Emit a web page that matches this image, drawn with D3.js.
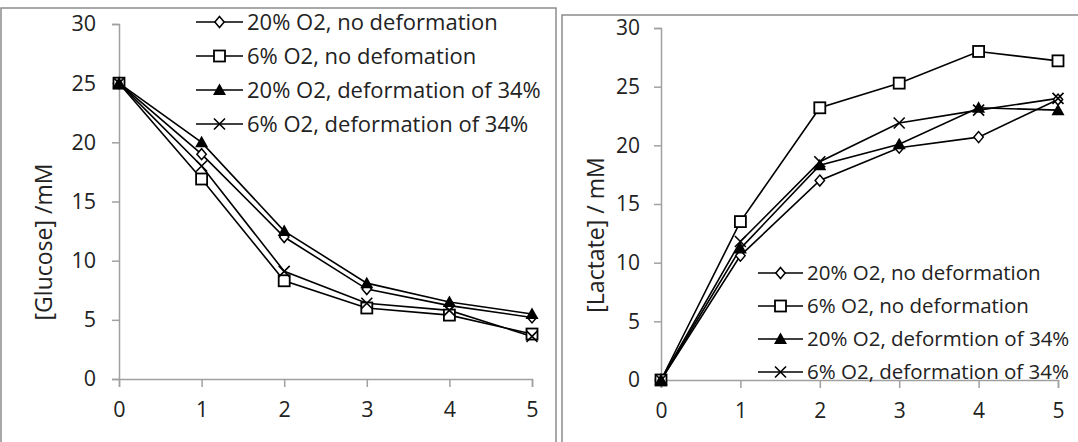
<!DOCTYPE html>
<html><head><meta charset="utf-8">
<script src="https://cdn.jsdelivr.net/npm/d3@7"></script>
<style>body{margin:0;background:#fff}svg{display:block}text{font-family:"Open Sans",sans-serif;fill:#222}</style>
</head><body><svg id="c" width="1078" height="442"></svg>
<script>
const hours = [0,1,2,3,4,5];
const yTicks = [0,5,10,15,20,25,30];
const glucoseLabels = ["20% O2, no deformation","6% O2, no defomation","20% O2, deformation of 34%","6% O2, deformation of 34%"];
const lactateLabels = ["20% O2, no deformation","6% O2, no deformation","20% O2, deformtion of 34%","6% O2, deformation of 34%"];
const markers = ["diamond","square","triangle","cross"];
const glucose20 = [25,19,12,7.6,6.2,5.2];
const glucose6 = [25,16.9,8.3,6.0,5.4,3.8];
const glucose20d = [25,20,12.5,8.1,6.5,5.5];
const glucose6d = [25,18,9.1,6.4,5.8,3.6];
const lactate20 = [0,10.6,17,19.8,20.7,23.9];
const lactate6 = [0,13.5,23.2,25.3,28,27.2];
const lactate20d = [0,11.2,18.3,20.1,23.2,23];
const lactate6d = [0,11.8,18.6,21.9,23,24];

const svg = d3.select("#c");

function marker(g, type, x, y){
  const s = 5.5;
  if(type==="diamond"){
    g.append("path").attr("d",`M${x},${y-s}L${x+s*0.85},${y}L${x},${y+s}L${x-s*0.85},${y}Z`).attr("fill","#fff").attr("stroke","#000").attr("stroke-width",1.5);
  } else if(type==="square"){
    g.append("rect").attr("x",x-s).attr("y",y-s).attr("width",2*s).attr("height",2*s).attr("fill","#fff").attr("stroke","#000").attr("stroke-width",1.8);
  } else if(type==="triangle"){
    g.append("path").attr("d",`M${x},${y-s-1}L${x+s+1},${y+s-0.5}L${x-s-1},${y+s-0.5}Z`).attr("fill","#000");
  } else {
    g.append("path").attr("d",`M${x-s},${y-s}L${x+s},${y+s}M${x-s},${y+s}L${x+s},${y-s}`).attr("stroke","#000").attr("stroke-width",1.6);
  }
}

function panel(cfg){
  const g = svg.append("g");
  g.append("rect").attr("x",cfg.box[0]).attr("y",cfg.box[1]).attr("width",cfg.box[2]).attr("height",cfg.box[3])
    .attr("fill","#fff").attr("stroke","#8c8c8c").attr("stroke-width",1.5);
  const x = d3.scaleLinear().domain([0,5]).range(cfg.xr);
  const y = d3.scaleLinear().domain([0,30]).range(cfg.yr);
  const ya = g.append("g").attr("transform",`translate(${cfg.xr[0]},0)`)
    .call(d3.axisLeft(y).tickValues(yTicks).tickFormat(d3.format("d")).tickSize(7).tickPadding(cfg.ypad));
  const xa = g.append("g").attr("transform",`translate(0,${cfg.yr[0]})`)
    .call(d3.axisBottom(x).tickValues(hours).tickFormat(d3.format("d")).tickSize(8).tickPadding(15));
  [ya,xa].forEach(a=>{
    a.attr("font-size",cfg.fs).attr("font-family","Open Sans");
    a.selectAll("path,line").attr("stroke","#a0a0a0").attr("stroke-width",1.5);
    a.selectAll("text").style("fill","#222");
  });
  g.append("text").attr("transform",`translate(${cfg.title[0]},${cfg.title[1]}) rotate(-90)`)
    .attr("text-anchor","middle").attr("dy","0.35em").attr("font-size",23).text(cfg.titleText);
  const line = d3.line().x((d,i)=>x(hours[i])).y(d=>y(d));
  cfg.series.forEach((s,k)=>{
    g.append("path").attr("d",line(s)).attr("fill","none").attr("stroke","#000").attr("stroke-width",1.6);
  });
  cfg.series.forEach((s,k)=>{
    s.forEach((v,i)=>marker(g, markers[k], x(hours[i]), y(v)));
  });
  cfg.labels.forEach((lab,k)=>{
    const ly = cfg.leg[1] + k*cfg.leg[2];
    g.append("line").attr("x1",cfg.leg[0]).attr("x2",cfg.leg[0]+cfg.leg[3]).attr("y1",ly).attr("y2",ly).attr("stroke","#000").attr("stroke-width",1.6);
    marker(g, markers[k], cfg.leg[0]+cfg.leg[3]/2, ly);
    g.append("text").attr("x",cfg.leg[0]+cfg.leg[3]+4).attr("y",ly).attr("dy","0.35em").attr("font-size",cfg.lfs).text(lab);
  });
}

panel({box:[1,8,555,450], xr:[119,532], yr:[379,24], ypad:16, fs:21.5, lfs:22, title:[44,242], titleText:"[Glucose] /mM",
  series:[glucose20,glucose6,glucose20d,glucose6d], labels:glucoseLabels, leg:[196,22,34,47]});
panel({box:[562,15,530,450], xr:[661,1058], yr:[380,28], ypad:14, fs:21, lfs:20.5, title:[596,235], titleText:"[Lactate] / mM",
  series:[lactate20,lactate6,lactate20d,lactate6d], labels:lactateLabels, leg:[758,273,33,45]});
</script></body></html>
